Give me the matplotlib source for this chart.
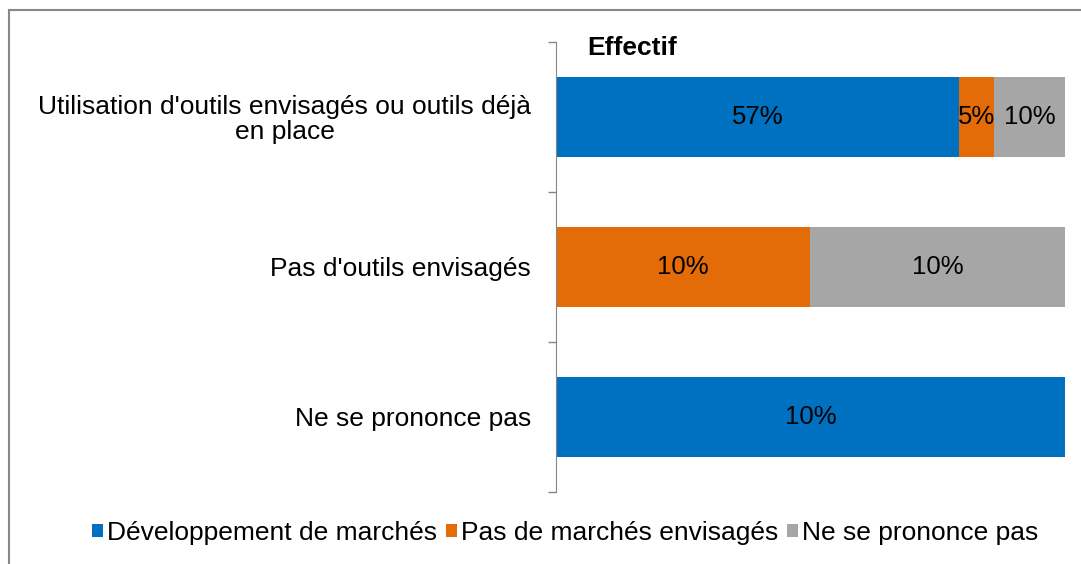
import numpy as np
import matplotlib.pyplot as plt
from matplotlib.patches import Rectangle

plt.rcParams['font.family'] = ['Liberation Sans', 'DejaVu Sans']

categories = ["Utilisation d'outils envisagés ou outils déjà\nen place",
              "Pas d'outils envisagés",
              "Ne se prononce pas"]
series = ["Développement de marchés", "Pas de marchés envisagés", "Ne se prononce pas"]
dev = [57, 0, 10]
pas = [5, 10, 0]
nsp = [10, 10, 0]
colors = ["#0070C0", "#E36C09", "#A6A6A6"]

vals = np.array([dev, pas, nsp], dtype=float)
shares = vals / vals.sum(axis=0)

fig = plt.figure(figsize=(10.81, 5.64), dpi=100)
ax = fig.add_axes([0.5143, 0.1277, 0.4709, 0.7979])

y = np.arange(len(categories))
left = np.zeros(len(categories))
for i, name in enumerate(series):
    ax.barh(y, shares[i], left=left, height=0.533, color=colors[i], label=name)
    for j in range(len(categories)):
        if vals[i, j] > 0:
            ax.text(left[j] + shares[i, j] / 2, y[j], f"{vals[i, j]:.0f}%",
                    ha="center", va="center", fontsize=18.5, color="black")
    left += shares[i]

ax.set_xlim(0, 1)
ax.set_ylim(len(categories) - 0.5, -0.5)
ax.set_yticks(np.arange(-0.5, len(categories) + 0.5, 1))
ax.set_yticklabels([])
ax.set_yticks(y, minor=True)
ax.set_yticklabels(categories, minor=True, fontsize=19, ha="right",
                   multialignment="center", linespacing=1.05)
ax.tick_params(axis="y", which="minor", length=0, pad=18)
ax.tick_params(axis="y", which="major", length=6, color="#868686", width=1)
ax.set_xticks([])
for s in ["top", "right", "bottom"]:
    ax.spines[s].set_visible(False)
ax.spines["left"].set_color("#868686")

fig.text(587 / 1081, 1 - 48 / 564, "Effectif", fontsize=19, fontweight="bold",
         ha="left", va="center")

fig.legend(loc="center", bbox_to_anchor=(565 / 1081, 1 - 533 / 564), ncol=3,
           frameon=False, fontsize=19, handlelength=0.4, handleheight=0.4,
           handletextpad=0.15, columnspacing=0.35)

fig.patches.append(Rectangle((8.5 / 1081, -0.1), 1.2, 1 - 10.5 / 564 + 0.1,
                             transform=fig.transFigure, fill=False,
                             edgecolor="#888888", linewidth=1.5))

fig.savefig("out.png", dpi=100)
